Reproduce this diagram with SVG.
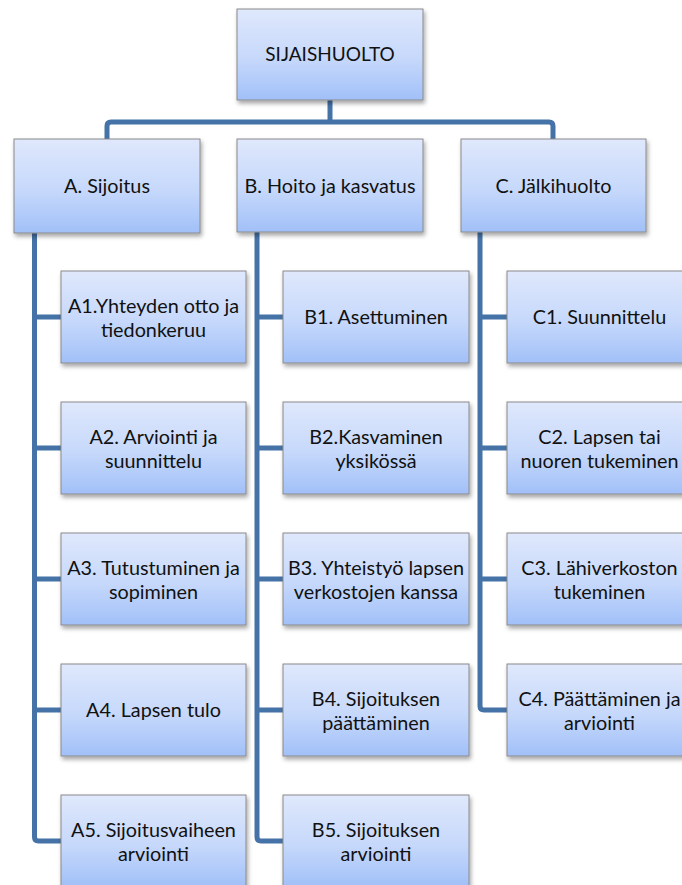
<svg xmlns="http://www.w3.org/2000/svg" width="682" height="885" viewBox="0 0 682 885">
  <defs>
    <linearGradient id="boxFill" x1="0" y1="0" x2="0" y2="1">
      <stop offset="0" stop-color="#dfe8fc"/>
      <stop offset="0.55" stop-color="#c6d8fb"/>
      <stop offset="1" stop-color="#a1c0f8"/>
    </linearGradient>
    <filter id="shadow" x="-10%" y="-10%" width="125%" height="130%">
      <feDropShadow dx="1.5" dy="3" stdDeviation="2" flood-color="#000" flood-opacity="0.35"/>
    </filter>
    <style>
      .box { fill: url(#boxFill); stroke: #8a8a8a; stroke-width: 1; filter: url(#shadow); }
      .label { font-family: Lato, "Liberation Sans", sans-serif; font-size: 19.8px; fill: #111; text-anchor: middle; }
      .root { font-size: 19px; }
      .link { fill: none; stroke: #4572a7; stroke-width: 5; stroke-linejoin: round; }
    </style>
  </defs>
  <rect width="682" height="885" fill="#fff"/>

  <g id="connectors">
    <!-- root to level 1 -->
    <path class="link" d="M330,100 V122"/>
    <path class="link" d="M107,139 V126 Q107,122 111,122 H549 Q553,122 553,126 V139"/>
    <!-- A branch -->
    <path class="link" d="M34.5,233 V837 Q34.5,841 38.5,841 H61"/>
    <path class="link" d="M34.5,317 H61 M34.5,448 H61 M34.5,579 H61 M34.5,710 H61"/>
    <!-- B branch -->
    <path class="link" d="M257,232 V837 Q257,841 261,841 H283"/>
    <path class="link" d="M257,317 H283 M257,448 H283 M257,579 H283 M257,710 H283"/>
    <!-- C branch -->
    <path class="link" d="M480,232 V706 Q480,710 484,710 H507"/>
    <path class="link" d="M480,317 H507 M480,448 H507 M480,579 H507"/>
  </g>

  <g id="root">
    <rect class="box" x="237" y="9" width="186" height="91"/>
    <text class="label root" x="330" y="61">SIJAISHUOLTO</text>
  </g>

  <g id="A">
    <rect class="box" x="14" y="139" width="186" height="94"/>
    <text class="label" x="107" y="193">A. Sijoitus</text>
  </g>
  <g id="B">
    <rect class="box" x="237" y="139" width="186" height="93"/>
    <text class="label" x="330" y="193">B. Hoito ja kasvatus</text>
  </g>
  <g id="C">
    <rect class="box" x="461" y="139" width="185" height="93"/>
    <text class="label" x="553.5" y="193">C. Jälkihuolto</text>
  </g>

  <g id="A1">
    <rect class="box" x="61" y="271" width="185" height="92"/>
    <text class="label" x="153.5" y="313">A1.Yhteyden otto ja<tspan x="153.5" dy="24">tiedonkeruu</tspan></text>
  </g>
  <g id="A2">
    <rect class="box" x="61" y="402" width="185" height="92"/>
    <text class="label" x="153.5" y="444">A2. Arviointi ja<tspan x="153.5" dy="24">suunnittelu</tspan></text>
  </g>
  <g id="A3">
    <rect class="box" x="61" y="533" width="185" height="92"/>
    <text class="label" x="153.5" y="575">A3. Tutustuminen ja<tspan x="153.5" dy="24">sopiminen</tspan></text>
  </g>
  <g id="A4">
    <rect class="box" x="61" y="664" width="185" height="92"/>
    <text class="label" x="153.5" y="717">A4. Lapsen tulo</text>
  </g>
  <g id="A5">
    <rect class="box" x="61" y="795" width="185" height="92"/>
    <text class="label" x="153.5" y="837">A5. Sijoitusvaiheen<tspan x="153.5" dy="24">arviointi</tspan></text>
  </g>

  <g id="B1">
    <rect class="box" x="283" y="271" width="186" height="92"/>
    <text class="label" x="376" y="324">B1. Asettuminen</text>
  </g>
  <g id="B2">
    <rect class="box" x="283" y="402" width="186" height="92"/>
    <text class="label" x="376" y="444">B2.Kasvaminen<tspan x="376" dy="24">yksikössä</tspan></text>
  </g>
  <g id="B3">
    <rect class="box" x="283" y="533" width="186" height="92"/>
    <text class="label" x="376" y="575">B3. Yhteistyö lapsen<tspan x="376" dy="24">verkostojen kanssa</tspan></text>
  </g>
  <g id="B4">
    <rect class="box" x="283" y="664" width="186" height="92"/>
    <text class="label" x="376" y="706">B4. Sijoituksen<tspan x="376" dy="24">päättäminen</tspan></text>
  </g>
  <g id="B5">
    <rect class="box" x="283" y="795" width="186" height="92"/>
    <text class="label" x="376" y="837">B5. Sijoituksen<tspan x="376" dy="24">arviointi</tspan></text>
  </g>

  <g id="C1">
    <rect class="box" x="507" y="271" width="185" height="92"/>
    <text class="label" x="599.5" y="324">C1. Suunnittelu</text>
  </g>
  <g id="C2">
    <rect class="box" x="507" y="402" width="185" height="92"/>
    <text class="label" x="599.5" y="444">C2. Lapsen tai<tspan x="599.5" dy="24">nuoren tukeminen</tspan></text>
  </g>
  <g id="C3">
    <rect class="box" x="507" y="533" width="185" height="92"/>
    <text class="label" x="599.5" y="575">C3. Lähiverkoston<tspan x="599.5" dy="24">tukeminen</tspan></text>
  </g>
  <g id="C4">
    <rect class="box" x="507" y="664" width="185" height="92"/>
    <text class="label" x="599.5" y="706">C4. Päättäminen ja<tspan x="599.5" dy="24">arviointi</tspan></text>
  </g>
</svg>
